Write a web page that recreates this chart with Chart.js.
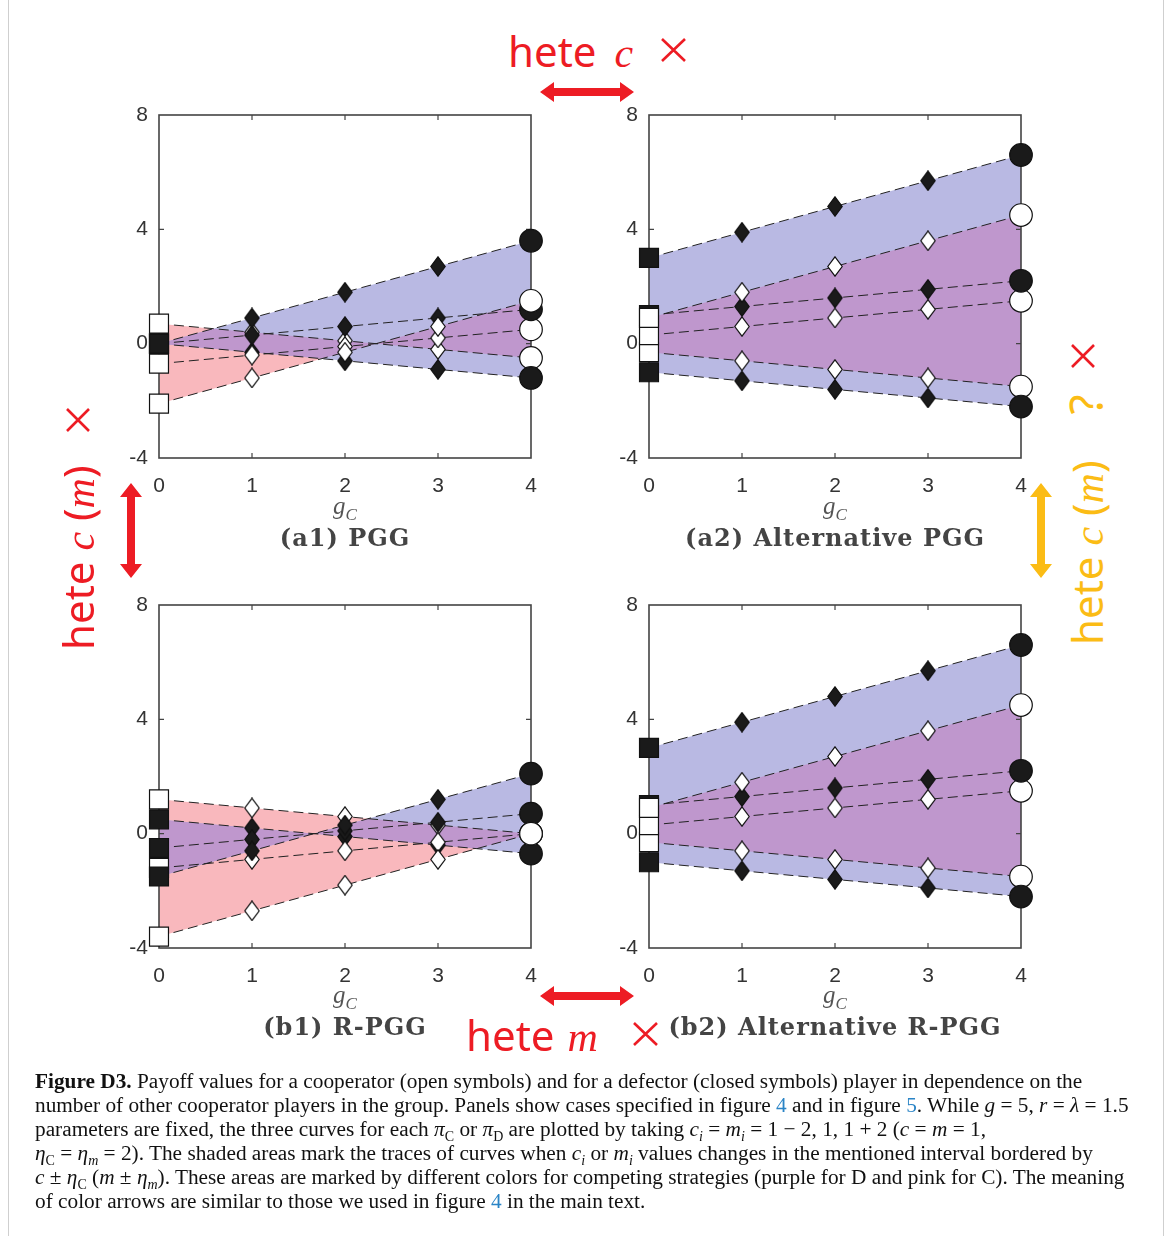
<!DOCTYPE html>
<html>
<head>
<meta charset="utf-8">
<script src="https://cdn.jsdelivr.net/npm/chart.js@4.4.1/dist/chart.umd.min.js"></script>
<style>
  body { margin: 0; background: #fff; }
  #page { position: relative; width: 1172px; height: 1236px; overflow: hidden; font-family: "Liberation Serif", serif; }
  .frame { position: absolute; top: 0; bottom: 0; left: 8px; right: 8px; border-left: 1px solid #cfcfcf; border-right: 1px solid #cfcfcf; }
  .panel { position: absolute; width: 450px; height: 400px; }
  .xlab { position: absolute; width: 372px; text-align: center; font: italic 25px "Liberation Serif", serif; color: #555; line-height: 28px; }
  .xlab sub { font-size: 17px; }
  .ptitle { position: absolute; width: 372px; text-align: center; font: bold 24px "DejaVu Serif", serif; letter-spacing: 1px; color: #444; white-space: nowrap; line-height: 24px; }
  .hand { position: absolute; font: 42px "Comic Sans MS", "Noto Sans", sans-serif; line-height: 1; white-space: nowrap; }
  .hand i { font-family: "Liberation Serif", serif; }
  .red { color: #ed1c24; }
  .yellow { color: #fbbc15; }
  .rot { transform-origin: 0 0; transform: rotate(-90deg); }
  #caption { position: absolute; left: 35px; top: 1069px; font-size: 21.3px; line-height: 24px; white-space: nowrap; color: #111; }
  #caption a { color: #2a84c6; text-decoration: none; }
  #caption sub { font-size: 14px; line-height: 0; }
  svg { position: absolute; left: 0; top: 0; }
</style>
</head>
<body>
<div id="page">
  <div class="frame"></div>

  <div class="panel" style="left:101px; top:100px"><canvas id="a1" width="450" height="400"></canvas></div>
  <div class="panel" style="left:591px; top:100px"><canvas id="a2" width="450" height="400"></canvas></div>
  <div class="panel" style="left:101px; top:590px"><canvas id="b1" width="450" height="400"></canvas></div>
  <div class="panel" style="left:591px; top:590px"><canvas id="b2" width="450" height="400"></canvas></div>

  <div class="xlab" style="left:159px; top:492px">g<sub>C</sub></div>
  <div class="xlab" style="left:649px; top:492px">g<sub>C</sub></div>
  <div class="xlab" style="left:159px; top:981px">g<sub>C</sub></div>
  <div class="xlab" style="left:649px; top:981px">g<sub>C</sub></div>

  <div class="ptitle" style="left:159px; top:526px">(a1) PGG</div>
  <div class="ptitle" style="left:649px; top:526px">(a2) Alternative PGG</div>
  <div class="ptitle" style="left:159px; top:1015px">(b1) R-PGG</div>
  <div class="ptitle" style="left:649px; top:1015px">(b2) Alternative R-PGG</div>

  <!-- annotations -->
  <div class="hand red" style="left:508px; top:30px">hete<i style="margin-left:18px">c</i></div>
  <div class="hand red" style="left:466px; top:1014px">hete<i style="margin-left:13px">m</i></div>
  <div class="hand red rot" style="left:57px; top:650px">hete <i>c</i> (<i>m</i>)</div>
  <div class="hand yellow rot" style="left:1062px; top:645px">hete <i>c</i> (<i>m</i>)<span style="margin-left:46px; font-size:46px">?</span></div>

  <svg width="1172" height="1236">
    <polygon fill="#ed1c24" points="540,92 554,82 554,88 620,88 620,82 634,92 620,102 620,96 554,96 554,102"/>
    <polygon fill="#ed1c24" points="540,996 554,986 554,992 620,992 620,986 634,996 620,1006 620,1000 554,1000 554,1006"/>
    <polygon fill="#ed1c24" points="131,483 142,497 135,497 135,564 142,564 131,578 120,564 127,564 127,497 120,497"/>
    <polygon fill="#fbbc15" points="1041,483 1052,497 1045,497 1045,564 1052,564 1041,578 1030,564 1037,564 1037,497 1030,497"/>
    <g stroke="#ed1c24" stroke-width="2.6" fill="none">
      <path d="M662,39 L685,61 M685,39 L662,61"/>
      <path d="M634,1023 L657,1045 M657,1023 L634,1045"/>
      <path d="M67,409 L89,431 M89,409 L67,431"/>
      <path d="M1072,345 L1094,367 M1094,345 L1072,367"/>
    </g>
  </svg>

  <div id="caption">
    <div><b>Figure D3.</b> Payoff values for a cooperator (open symbols) and for a defector (closed symbols) player in dependence on the</div>
    <div>number of other cooperator players in the group. Panels show cases specified in figure <a>4</a> and in figure <a>5</a>. While <i>g</i> = 5, <i>r</i> = <i>λ</i> = 1.5</div>
    <div>parameters are fixed, the three curves for each <i>π</i><sub>C</sub> or <i>π</i><sub>D</sub> are plotted by taking <i>c<sub>i</sub></i> = <i>m<sub>i</sub></i> = 1 − 2, 1, 1 + 2 (<i>c</i> = <i>m</i> = 1,</div>
    <div><i>η</i><sub>C</sub> = <i>η<sub>m</sub></i> = 2). The shaded areas mark the traces of curves when <i>c<sub>i</sub></i> or <i>m<sub>i</sub></i> values changes in the mentioned interval bordered by</div>
    <div><i>c</i> ± <i>η</i><sub>C</sub> (<i>m</i> ± <i>η<sub>m</sub></i>). These areas are marked by different colors for competing strategies (purple for D and pink for C). The meaning</div>
    <div>of color arrows are similar to those we used in figure <a>4</a> in the main text.</div>
  </div>
</div>

<script>
// number of other cooperators in the group
const gC = [0, 1, 2, 3, 4]
const xTicks = [0, 1, 2, 3, 4]
const yTicks = [-4, 0, 4, 8]

// (a1) PGG -- C = open symbols, D = closed symbols, one curve per c_i = 3, 1, -1
const pggC3 = [-2.1, -1.2, -0.3, 0.6, 1.5]
const pggC1 = [-0.7, -0.4, -0.1, 0.2, 0.5]
const pggCm1 = [0.7, 0.4, 0.1, -0.2, -0.5]
const pggD3 = [0, 0.9, 1.8, 2.7, 3.6]
const pggD1 = [0, 0.3, 0.6, 0.9, 1.2]
const pggDm1 = [0, -0.3, -0.6, -0.9, -1.2]

// (a2) Alternative PGG and (b2) Alternative R-PGG (same values)
const altC3 = [0.9, 1.8, 2.7, 3.6, 4.5]
const altC1 = [0.3, 0.6, 0.9, 1.2, 1.5]
const altCm1 = [-0.3, -0.6, -0.9, -1.2, -1.5]
const altD3 = [3.0, 3.9, 4.8, 5.7, 6.6]
const altD1 = [1.0, 1.3, 1.6, 1.9, 2.2]
const altDm1 = [-1.0, -1.3, -1.6, -1.9, -2.2]

// (b1) R-PGG
const rpggC3 = [-3.6, -2.7, -1.8, -0.9, 0]
const rpggC1 = [-1.2, -0.9, -0.6, -0.3, 0]
const rpggCm1 = [1.2, 0.9, 0.6, 0.3, 0]
const rpggD3 = [-1.5, -0.6, 0.3, 1.2, 2.1]
const rpggD1 = [-0.5, -0.2, 0.1, 0.4, 0.7]
const rpggDm1 = [0.5, 0.2, -0.1, -0.4, -0.7]

const blue = "#b9b9e3"
const pink = "#f9b8bd"
const purple = "#bf97cd"

// diamond marker drawn on a small canvas
function makeDiamond(fill) {
  const c = document.createElement("canvas")
  c.width = 16
  c.height = 21
  const g = c.getContext("2d")
  g.beginPath()
  g.moveTo(8, 0.8)
  g.lineTo(15.2, 10.5)
  g.lineTo(8, 20.2)
  g.lineTo(0.8, 10.5)
  g.closePath()
  g.fillStyle = fill
  g.fill()
  g.lineWidth = 1.2
  g.strokeStyle = "#111"
  g.stroke()
  return c
}
const diaOpen = makeDiamond("#fff")
const diaClosed = makeDiamond("#1a1a1a")

function curve(values, open, fill) {
  const dia = open ? diaOpen : diaClosed
  return {
    data: values.map((v, i) => ({ x: gC[i], y: v })),
    borderColor: "#222",
    borderWidth: 1,
    borderDash: [10, 5],
    fill: fill || false,
    clip: false,
    pointStyle: ["rect", dia, dia, dia, "circle"],
    pointRadius: [13.4, 10, 10, 10, 11.3],
    pointBackgroundColor: open ? "#fff" : "#1a1a1a",
    pointBorderColor: "#111",
    pointBorderWidth: 1.2,
  }
}

// dataset indices (chart.js draws the last dataset first)
const D3 = 0, C3 = 1, D1 = 2, C1 = 3, DM1 = 4, CM1 = 5

// purple where the C band and the D band overlap, box and inner tick marks
const panelDeco = {
  id: "panelDeco",
  beforeDatasetsDraw(chart) {
    const ctx = chart.ctx
    const a = chart.chartArea
    const x = chart.scales.x
    const y = chart.scales.y

    const band = (hiIdx, loIdx) => {
      const hi = chart.getDatasetMeta(hiIdx).data
      const lo = chart.getDatasetMeta(loIdx).data
      ctx.beginPath()
      hi.forEach((p, i) => (i === 0 ? ctx.moveTo(p.x, p.y) : ctx.lineTo(p.x, p.y)))
      lo.slice().reverse().forEach((p) => ctx.lineTo(p.x, p.y))
      ctx.closePath()
    }
    ctx.save()
    band(C3, CM1)
    ctx.clip()
    band(D3, DM1)
    ctx.fillStyle = purple
    ctx.fill()
    ctx.restore()

    ctx.save()
    ctx.strokeStyle = "#444"
    ctx.lineWidth = 1.6
    ctx.strokeRect(a.left, a.top, a.right - a.left, a.bottom - a.top)
    ctx.lineWidth = 1.2
    ctx.beginPath()
    xTicks.slice(1, -1).forEach((t) => {
      const px = x.getPixelForValue(t)
      ctx.moveTo(px, a.bottom)
      ctx.lineTo(px, a.bottom - 5)
      ctx.moveTo(px, a.top)
      ctx.lineTo(px, a.top + 5)
    })
    yTicks.slice(1, -1).forEach((t) => {
      const py = y.getPixelForValue(t)
      ctx.moveTo(a.left, py)
      ctx.lineTo(a.left + 5, py)
      ctx.moveTo(a.right, py)
      ctx.lineTo(a.right - 5, py)
    })
    ctx.stroke()
    ctx.restore()
  },
}

// fixed axis size, no extra label padding, so the plot box lands where it should
function fixSize(s, key, val) {
  s[key] = val
  s.paddingTop = 0
  s.paddingBottom = 0
  s.paddingLeft = 0
  s.paddingRight = 0
}

function createChart(canvasId, c3, c1, cm1, d3, d1, dm1) {
  const ctx = document.getElementById(canvasId).getContext("2d")
  const tickFont = { family: "Liberation Sans", size: 21 }

  const datasets = []
  datasets[D3] = curve(d3, false, { target: DM1, above: blue, below: blue })
  datasets[C3] = curve(c3, true, { target: CM1, above: pink, below: pink })
  datasets[D1] = curve(d1, false)
  datasets[C1] = curve(c1, true)
  datasets[DM1] = curve(dm1, false)
  datasets[CM1] = curve(cm1, true)

  new Chart(ctx, {
    type: "line",
    data: { datasets: datasets },
    options: {
      responsive: false,
      animation: false,
      events: [],
      layout: { padding: { top: 15, right: 20, bottom: 0, left: 0 } },
      elements: { line: { tension: 0 } },
      plugins: {
        legend: { display: false },
        tooltip: { enabled: false },
        filler: { drawTime: "beforeDatasetsDraw" },
      },
      scales: {
        x: {
          type: "linear",
          min: 0,
          max: 4,
          afterBuildTicks: (s) => {
            s.ticks = xTicks.map((v) => ({ value: v }))
          },
          ticks: { color: "#333", font: tickFont, padding: 16, maxRotation: 0 },
          grid: { display: false, drawTicks: false },
          border: { display: false },
          afterFit: (s) => fixSize(s, "height", 42),
        },
        y: {
          type: "linear",
          min: -4,
          max: 8,
          afterBuildTicks: (s) => {
            s.ticks = yTicks.map((v) => ({ value: v }))
          },
          ticks: { color: "#333", font: tickFont, padding: 11 },
          grid: { display: false, drawTicks: false },
          border: { display: false },
          afterFit: (s) => fixSize(s, "width", 58),
        },
      },
    },
    plugins: [panelDeco],
  })
}

createChart("a1", pggC3, pggC1, pggCm1, pggD3, pggD1, pggDm1)
createChart("a2", altC3, altC1, altCm1, altD3, altD1, altDm1)
createChart("b1", rpggC3, rpggC1, rpggCm1, rpggD3, rpggD1, rpggDm1)
createChart("b2", altC3, altC1, altCm1, altD3, altD1, altDm1)
</script>
</body>
</html>
